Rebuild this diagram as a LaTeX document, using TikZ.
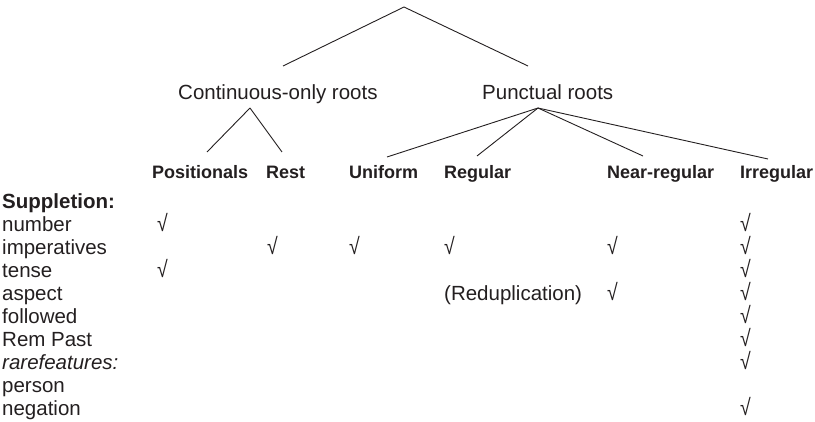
\documentclass[tikz,border=0pt]{standalone}
\usepackage{fontspec}
\setmainfont{Liberation Sans}
\definecolor{ink}{HTML}{231F20}
% tall, narrow check sign used in the table cells
\newcommand{\yesmark}{\scalebox{0.95}[1.12]{√}}
\begin{document}
\begin{tikzpicture}[x=1pt,y=-1pt,
  branch/.style={draw=ink,line width=0.9pt},
  cat/.style={anchor=base west,inner sep=0pt,text=ink,font=\fontsize{20.5}{24}\selectfont},
  colhead/.style={anchor=base west,inner sep=0pt,text=ink,font=\fontsize{18}{22}\selectfont\bfseries},
  rowlab/.style={anchor=base west,inner sep=0pt,text=ink,font=\fontsize{20.5}{24}\selectfont},
  tick/.style={anchor=base west,inner sep=0pt,text=ink,text height=18pt,text depth=0pt,
    font=\fontsize{20.5}{24}\selectfont}]
\useasboundingbox (0,0) rectangle (815,422);

% tree: root and two root classes
\coordinate (top) at (404,7);
\coordinate (contTop) at (283,66);
\coordinate (punctTop) at (528,66);
\node[cat] (cont) at (178,100) {Continuous-only roots};
\node[cat] (punct) at (482,100) {Punctual roots};
\draw[branch] (top) -- (contTop);
\draw[branch] (top) -- (punctTop);

% branch points and leaf ends
\coordinate (contApex) at (250,108);
\coordinate (punctApex) at (538,108);
\coordinate (posEnd) at (207,152);
\coordinate (restEnd) at (282,152);
\coordinate (uniEnd) at (387,157);
\coordinate (regEnd) at (477,156);
\coordinate (nearEnd) at (643,156);
\coordinate (irrEnd) at (768,159);
\draw[branch] (contApex) -- (posEnd);
\draw[branch] (contApex) -- (restEnd);
\draw[branch] (punctApex) -- (uniEnd);
\draw[branch] (punctApex) -- (regEnd);
\draw[branch] (punctApex) -- (nearEnd);
\draw[branch] (punctApex) -- (irrEnd);

% column headings
\node[colhead] (hPos)  at (152,179) {Positionals};
\node[colhead] (hRest) at (266,179) {Rest};
\node[colhead] (hUni)  at (349,179) {Uniform};
\node[colhead] (hReg)  at (444,179) {Regular};
\node[colhead] (hNear) at (607,179) {Near-regular};
\node[colhead] (hIrr)  at (740,179) {Irregular};

% row labels
\node[rowlab,font=\fontsize{20.5}{24}\selectfont\bfseries] (rSup) at (2,209) {Suppletion:};
\node[rowlab] (rNum)  at (2,232) {number};
\node[rowlab] (rImp)  at (2,255) {imperatives};
\node[rowlab] (rTen)  at (2,278) {tense};
\node[rowlab] (rAsp)  at (2,301) {aspect};
\node[rowlab] (rFol)  at (2,324) {followed};
\node[rowlab] (rRem)  at (2,347) {Rem Past};
\node[rowlab,font=\fontsize{20.5}{24}\selectfont\itshape] (rRare) at (2,370) {rarefeatures:};
\node[rowlab] (rPer)  at (2,393) {person};
\node[rowlab] (rNeg)  at (2,416) {negation};

% table entries
\node[tick] (pNum) at (157,232) {\yesmark};
\node[tick] (pTen) at (157,278) {\yesmark};
\node[tick] (sImp) at (267,255) {\yesmark};
\node[tick] (uImp) at (349,255) {\yesmark};
\node[tick] (gImp) at (444,255) {\yesmark};
\node[rowlab] (gAsp) at (444,301) {(Reduplication)};
\node[tick] (nImp) at (607,255) {\yesmark};
\node[tick] (nAsp) at (607,301) {\yesmark};
\node[tick] (iNum) at (740,232) {\yesmark};
\node[tick] (iImp) at (740,255) {\yesmark};
\node[tick] (iTen) at (740,278) {\yesmark};
\node[tick] (iAsp) at (740,301) {\yesmark};
\node[tick] (iFol) at (740,324) {\yesmark};
\node[tick] (iRem) at (740,347) {\yesmark};
\node[tick] (iRare) at (740,370) {\yesmark};
\node[tick] (iNeg) at (740,416) {\yesmark};
\end{tikzpicture}
\end{document}
